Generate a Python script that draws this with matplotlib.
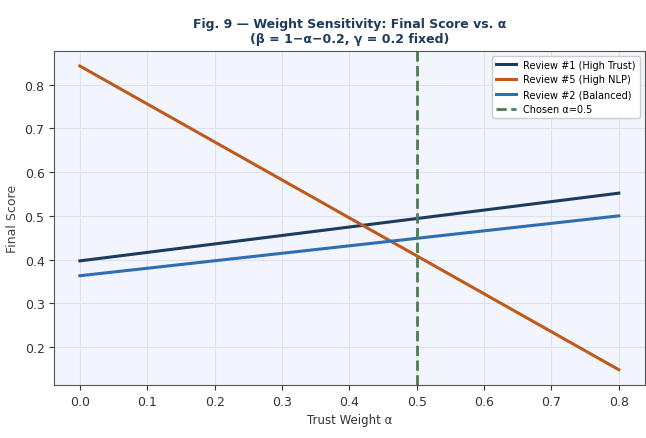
import matplotlib
matplotlib.use("Agg")
import matplotlib.pyplot as plt

# Trust weight alpha and final scores (linear in alpha)
alpha = [0.0, 0.8]
review1 = [0.397, 0.552]   # High Trust
review5 = [0.843, 0.148]   # High NLP
review2 = [0.363, 0.500]   # Balanced
chosen_alpha = 0.5

fig, ax = plt.subplots(figsize=(6.46, 4.39), dpi=100)
ax.set_facecolor("#f2f5fb")

ax.plot(alpha, review1, color="#1e3a5c", lw=2.2, label="Review #1 (High Trust)")
ax.plot(alpha, review5, color="#c05a1c", lw=2.2, label="Review #5 (High NLP)")
ax.plot(alpha, review2, color="#2f6faf", lw=2.2, label="Review #2 (Balanced)")
ax.axvline(chosen_alpha, color="#4b7d4f", lw=2, ls="--", label="Chosen \u03b1=0.5")

ax.set_xticks([0.0, 0.1, 0.2, 0.3, 0.4, 0.5, 0.6, 0.7, 0.8])
ax.set_yticks([0.2, 0.3, 0.4, 0.5, 0.6, 0.7, 0.8])
ax.set_xlim(-0.038, 0.8385)
ax.tick_params(labelsize=9, colors="#333333")
ax.grid(True, color="#dde3ee", lw=0.8)
ax.set_axisbelow(True)

ax.set_xlabel("Trust Weight \u03b1", fontsize=8.5, color="#333333")
ax.set_ylabel("Final Score", fontsize=9, color="#444444")
ax.set_title("Fig. 9 \u2014 Weight Sensitivity: Final Score vs. \u03b1\n"
             "(\u03b2 = 1\u2212\u03b1\u22120.2, \u03b3 = 0.2 fixed)",
             fontsize=9, fontweight="bold", color="#1e3a5c")
ax.legend(loc="upper right", fontsize=7, frameon=True, framealpha=1)

for s in ax.spines.values():
    s.set_color("#555555")

fig.subplots_adjust(left=0.084, right=0.998, top=0.882, bottom=0.121)
fig.savefig("out.png", dpi=100)
